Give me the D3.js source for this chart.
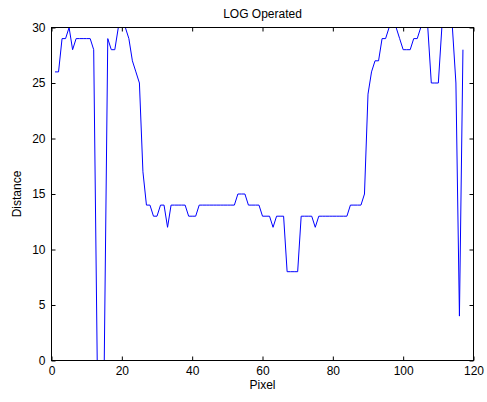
<!DOCTYPE html>
<html>
<head>
<meta charset="utf-8">
<script src="https://cdn.jsdelivr.net/npm/d3@7"></script>
<style>
  html, body { margin: 0; padding: 0; background: #fff; }
  svg { display: block; }
  text { font-family: "Liberation Sans", Arial, Helvetica, sans-serif; fill: #000; }
</style>
</head>
<body>
<svg id="chart" width="487" height="402"></svg>
<script>
// Distance measured at each pixel after the LOG operation (pixels 1..117)
const distance = [
  26, 26, 29, 29, 30, 28, 29, 29, 29, 29,
  29, 28, 0, 0, 0, 29, 28, 28, 30, 30,
  30, 29, 27, 26, 25, 17, 14, 14, 13, 13,
  14, 14, 12, 14, 14, 14, 14, 14, 13, 13,
  13, 14, 14, 14, 14, 14, 14, 14, 14, 14,
  14, 14, 15, 15, 15, 14, 14, 14, 14, 13,
  13, 13, 12, 13, 13, 13, 8, 8, 8, 8,
  13, 13, 13, 13, 12, 13, 13, 13, 13, 13,
  13, 13, 13, 13, 14, 14, 14, 14, 15, 24,
  26, 27, 27, 29, 29, 30, 30, 30, 29, 28,
  28, 28, 29, 29, 30, 30, 30, 25, 25, 25,
  30, 30, 30, 30, 25, 4, 28
];
const pixel = distance.map((_, i) => i + 1);

const xTicks = [0, 20, 40, 60, 80, 100, 120];
const yTicks = [0, 5, 10, 15, 20, 25, 30];
const titleText = "LOG Operated";
const xLabel = "Pixel";
const yLabel = "Distance";

const margin = { left: 51.5, top: 27.5 };
const width = 422, height = 333;

const svg = d3.select("#chart");
const g = svg.append("g").attr("transform", `translate(${margin.left},${margin.top})`);

const x = d3.scaleLinear().domain([0, 120]).range([0, width]);
const y = d3.scaleLinear().domain([0, 30]).range([height, 0]);

// data line
g.append("path")
  .datum(pixel.map((p, i) => [p, distance[i]]))
  .attr("fill", "none")
  .attr("stroke", "#0000ff")
  .attr("stroke-width", 1)
  .attr("d", d3.line().x(d => x(d[0])).y(d => y(d[1])));

const tickLen = 4;
const styleAxis = sel => {
  sel.selectAll(".domain").remove();
  sel.selectAll(".tick line").attr("stroke", "#000");
  sel.selectAll(".tick text").style("font-size", "12px")
    .style("font-family", '"Liberation Sans", Arial, sans-serif');
};

// bottom axis with labels, ticks pointing inward
g.append("g").attr("transform", `translate(0,${height})`)
  .call(d3.axisBottom(x).tickValues(xTicks).tickSize(-tickLen).tickPadding(6).tickFormat(d3.format("d")))
  .call(styleAxis);
// left axis with labels
g.append("g")
  .call(d3.axisLeft(y).tickValues(yTicks).tickSize(-tickLen).tickPadding(6).tickFormat(d3.format("d")))
  .call(styleAxis);
// top and right mirror ticks
g.append("g")
  .call(d3.axisTop(x).tickValues(xTicks).tickSize(-tickLen).tickFormat(""))
  .call(styleAxis);
g.append("g").attr("transform", `translate(${width},0)`)
  .call(d3.axisRight(y).tickValues(yTicks).tickSize(-tickLen).tickFormat(""))
  .call(styleAxis);

// axes box
g.append("rect")
  .attr("x", 0).attr("y", 0).attr("width", width).attr("height", height)
  .attr("fill", "none").attr("stroke", "#000").attr("stroke-width", 1);

// title and axis labels
svg.append("text")
  .attr("x", margin.left + width / 2).attr("y", 18)
  .attr("text-anchor", "middle").style("font-size", "12px")
  .text(titleText);
svg.append("text")
  .attr("x", margin.left + width / 2).attr("y", 389)
  .attr("text-anchor", "middle").style("font-size", "12px")
  .text(xLabel);
svg.append("text")
  .attr("transform", `translate(21,${margin.top + height / 2}) rotate(-90)`)
  .attr("text-anchor", "middle").style("font-size", "12px")
  .text(yLabel);
</script>
</body>
</html>
